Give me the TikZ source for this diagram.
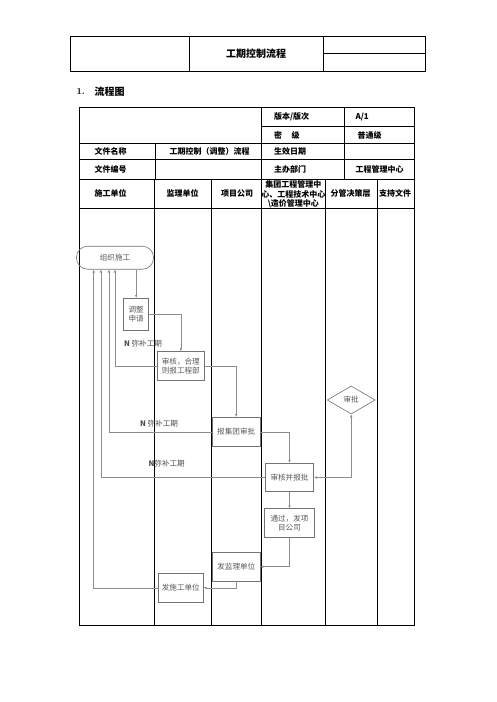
\documentclass[tikz,border=0pt]{standalone}
\usepackage{fontspec}
\usepackage{tikz}
\usetikzlibrary{arrows.meta,shapes.geometric}
\newfontfamily\cjk{Noto Sans CJK SC}

\begin{document}
\begin{tikzpicture}[x=1pt,y=-1pt,
	tabla/.style={line width=0.8pt},
	titulo/.style={font=\cjk\bfseries\fontsize{8}{9.5}\selectfont},
	paso/.style={draw=black!55,line width=0.6pt,inner sep=1pt,align=center,text=black!65,font=\cjk\fontsize{7.6}{9.6}\selectfont},
	flecha/.style={draw=black!45,line width=0.6pt,-{Latex[length=3pt,width=2.6pt]}},
	nota/.style={text=black!70,font=\cjk\fontsize{7.6}{9}\selectfont}]
	\useasboundingbox (0,0) rectangle (496,702);

	%CABECERA
	\draw[tabla] (70.7,36.3) rectangle (425.7,71);
	\draw[tabla] (189.3,36.3) -- (189.3,71);
	\draw[tabla] (323.3,36.3) -- (323.3,71);
	\draw[tabla] (323.3,53.7) -- (425.7,53.7);
	\node[font=\cjk\bfseries\fontsize{10}{12}\selectfont] (nombre) at (256,53.5) {工期控制流程};
	\node[font=\bfseries\fontsize{9}{11}\selectfont,anchor=west] (num) at (73,92) {1.};
	\node[font=\cjk\bfseries\fontsize{10}{12}\selectfont,anchor=west] (seccion) at (91,92) {流程图};

	%TABLA
	\draw[tabla] (79,107.7) rectangle (414.5,625);
	\draw[tabla] (261,126.7) -- (414.5,126.7);
	\foreach \y in {143.3,159.3,179,208.3}
		\draw[tabla] (79,\y) -- (414.5,\y);
	\draw[tabla] (155,143.3) -- (155,179);
	\draw[tabla] (344.3,107.7) -- (344.3,179);
	\draw[tabla] (261,107.7) -- (261,625);

	%CARRILES
	\foreach \x in {154.5,211.7,325.7,377}
		\draw[tabla] (\x,179) -- (\x,625);

	%TEXTOS TABLA
	\node[titulo,anchor=west] (ver) at (270.5,117.2) {版本/版次};
	\node[titulo,anchor=west] (verv) at (352,117.2) {A/1};
	\node[titulo,anchor=west] (mi) at (270.5,135) {密\hspace{1.2em}级};
	\node[titulo,anchor=west] (miv) at (354,135) {普通级};
	\node[titulo,anchor=west] (arch) at (91,151.3) {文件名称};
	\node[titulo] (archv) at (209.5,151.3) {工期控制（调整）流程};
	\node[titulo,anchor=west] (fecha) at (270.5,151.3) {生效日期};
	\node[titulo,anchor=west] (cod) at (91,169) {文件编号};
	\node[titulo,anchor=west] (dep) at (270.5,169) {主办部门};
	\node[titulo] (depv) at (379.5,169) {工程管理中心};
	\node[titulo,anchor=west] (c1) at (91,193.7) {施工单位};
	\node[titulo] (c2) at (182.7,193.7) {监理单位};
	\node[titulo] (c3) at (237,193.7) {项目公司};
	\node[titulo,align=center,font=\cjk\bfseries\fontsize{8}{9.4}\selectfont] (c4) at (293.3,194.3) {集团工程管理中\\心、工程技术中心\\\textbackslash 造价管理中心};
	\node[titulo] (c5) at (350.5,193.7) {分管决策层};
	\node[titulo] (c6) at (395,193.7) {支持文件};

	%PASOS
	\node[paso,rounded corners=11pt,minimum width=77pt,minimum height=23pt] (zuzhi) at (115,257.7) {组织施工};
	\node[paso,minimum width=25pt,minimum height=31.7pt] (tiaozheng) at (136.2,314.2) {调整\\申请};
	\node[paso,minimum width=47pt,minimum height=29pt] (shenhe) at (180.8,366.2) {审核，合理\\则报工程部};
	\node[paso,minimum width=47.7pt,minimum height=29.4pt] (jituan) at (236.2,432) {报集团审批};
	\node[paso,minimum width=48.4pt,minimum height=28.4pt] (baopi) at (289.5,477.5) {审核并报批};
	\node[paso,diamond,inner sep=0pt,minimum width=48pt,minimum height=28pt] (shenpi) at (351.2,400) {审批};
	\node[paso,minimum width=50.4pt,minimum height=28.6pt] (tongguo) at (289.5,523) {通过，发项\\目公司};
	\node[paso,minimum width=47.3pt,minimum height=28.7pt] (jianli) at (236.3,566.7) {发监理单位};
	\node[paso,minimum width=45pt,minimum height=29pt] (shigong) at (180.8,587.8) {发施工单位};

	%FLECHAS
	\draw[flecha] (tiaozheng |- zuzhi.south) -- (tiaozheng.north);
	\draw[flecha] (tiaozheng.east) -| (shenhe.north);
	\draw[flecha] (shenhe.east) -| (jituan.north);
	\draw[flecha] (jituan.east) -| (baopi.north);
	\draw[flecha] (baopi.south) -- (tongguo.north);
	\draw[flecha] (tongguo.south) |- (jianli.east);
	\draw[flecha] (jianli.south) |- (shigong.east);
	\draw[flecha,{Latex[length=3pt,width=2.6pt]}-{Latex[length=3pt,width=2.6pt]}] (shenpi.south) |- (baopi.east);

	%RETORNOS
	\draw[flecha] (shenhe.west) -| (zuzhi.south);
	\draw[flecha] (jituan.west) -| ([xshift=-6pt]zuzhi.south);
	\draw[flecha] (baopi.west) -| ([xshift=-14pt]zuzhi.south);
	\draw[flecha] (shigong.west) -| ([xshift=-21.3pt]zuzhi.south);
	\node[nota] (n1) at (143,344) {\textbf{N} 弥补工期};
	\node[nota] (n2) at (159,423.3) {\textbf{N} 弥补工期};
	\node[nota] (n3) at (166.7,464) {\textbf{N}弥补工期};
\end{tikzpicture}
\end{document}
